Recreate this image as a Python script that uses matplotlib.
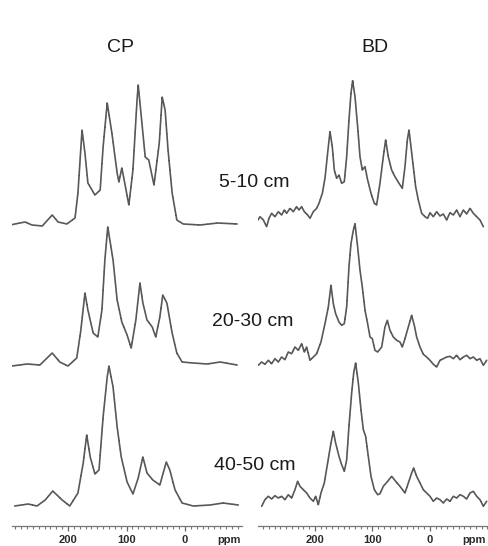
import matplotlib
matplotlib.use("Agg")
import matplotlib.pyplot as plt
from matplotlib.ticker import MultipleLocator, FixedLocator
import matplotlib.transforms as mtransforms

# ---------------- data (ppm, intensity above baseline) ----------------
CP1_ppm = [299, 273.5, 261.5, 244, 227, 217, 202, 188, 183, 176, 171, 166, 154, 145, 140, 133, 125, 116, 113, 108,
           103, 96, 89, 82, 80, 73, 68, 62, 53, 44, 39, 34, 29, 22, 14, 3, -26, -56, -89]
CP1_int = [0, 3, 0, -1, 10, 3, 1, 7, 32, 95, 72, 42, 30, 35, 78, 122, 92, 52, 43, 57,
           42, 20, 55, 125, 140, 98, 68, 65, 40, 82, 128, 115, 75, 32, 5, 1, 0, 2, 1]

CP2_ppm = [296, 270, 248, 227, 214, 200, 185, 178, 171, 166, 157, 149, 142, 137, 132, 123, 116, 108, 99, 92,
           84, 77, 72, 65, 56, 50, 43, 38, 31, 22, 14, 5, -14, -38, -60, -89]
CP2_int = [-1, 1, 0, 12, 3, -1, 7, 35, 72, 55, 32, 28, 55, 105, 138, 105, 65, 43, 30, 17,
           45, 82, 62, 45, 38, 28, 48, 70, 62, 32, 12, 3, 2, 1, 3, 0]

CP3_ppm = [291, 268, 253, 239, 226, 210, 197, 183, 174, 168, 162, 154, 147, 140, 133, 130, 123, 116, 109, 99,
           89, 80, 72, 65, 55, 43, 32, 26, 17, 5, -14, -43, -65, -91]
CP3_int = [-1, 1, -1, 5, 14, 5, -1, 12, 42, 70, 48, 31, 35, 88, 128, 139, 118, 78, 48, 23,
           11, 27, 48, 32, 25, 20, 43, 35, 15, 2, -1, 0, 2, 0]

BD1_ppm = [301.4, 295.6, 289.8, 284.1, 280.0, 275.4, 269.6, 263.8, 258.0, 253.3,
           249.3, 243.5, 237.7, 231.9, 227.8, 223.2, 218.5, 212.7, 208.7, 202.9,
           197.1, 193.0, 187.2, 182.6, 176.8, 173.9, 169.9, 166.4, 162.3, 158.3,
           153.6, 149.0, 144.9, 140.9, 137.4, 134.5, 130.4, 125.8, 121.7, 117.7,
           113.0, 108.4, 102.6, 96.8, 92.8, 87.0, 81.2, 77.1, 72.5, 66.7,
           60.9, 53.9, 48.1, 43.5, 39.4, 36.5, 33.1, 29.0, 24.9, 20.3,
           14.5, 8.7, 4.1, 0.0, -5.8, -11.6, -17.4, -23.2, -29.0, -34.8,
           -40.6, -46.4, -52.2, -58.0, -63.8, -69.6, -75.4, -81.2, -87.0, -92.8]
BD1_int = [-6.7, -1.7, -5, -11.7, -3.3, 1.7, -1.7, 3.3, 0, 5,
           1.7, 6.7, 3.3, 8.3, 5, 8.3, 3.3, 0, -3.3, 3.3,
           6.7, 11.7, 21.7, 36.7, 68.3, 83.3, 68.3, 45, 36.7, 40,
           31.7, 33.3, 58.3, 95, 121.7, 134.3, 118.3, 88.3, 58.3, 45,
           48.3, 35, 21.7, 11.7, 10, 31.7, 58.3, 75, 58.3, 45,
           38.3, 31.7, 26.7, 48.3, 75, 85, 68.3, 48.3, 28.3, 15,
           1.7, -1.7, -3.3, 2.3, -1.7, 3.3, -1, 1, -5, 2.3,
           0, 5, -1.7, 5, 1, 6.7, 1.7, -1.7, -5, -11.7]

BD2_ppm = [298.6, 292.8, 287.0, 281.2, 275.4, 269.6, 263.8, 258.0, 252.2, 246.4,
           240.6, 234.8, 229.0, 223.2, 218.5, 214.5, 208.7, 202.9, 197.1, 189.6,
           182.6, 176.8, 172.2, 168.1, 164.1, 158.3, 153.6, 149.0, 144.9, 140.9,
           137.4, 133.3, 130.4, 125.8, 121.7, 117.7, 113.0, 108.4, 104.3, 100.3,
           95.7, 91.0, 84.0, 78.3, 74.2, 69.6, 63.8, 58.0, 52.2, 48.1,
           43.5, 37.7, 31.9, 27.3, 23.2, 17.4, 11.6, 5.8, 0.0, -5.8,
           -11.6, -17.4, -23.2, -29.0, -34.8, -40.6, -46.4, -52.2, -58.0, -63.8,
           -69.6, -75.4, -81.2, -87.0, -92.8, -98.6]
BD2_int = [-4.3, -1, -3.3, 0.7, -2.7, 2.3, -1, 4, 1.3, 9,
           7.3, 14, 10.7, 17.3, 9, 14, 0.7, 4, 7.3, 19,
           37.3, 54, 75.7, 57.3, 47.3, 39, 35.7, 37.3, 54, 94,
           117.3, 130.7, 137.3, 114, 90.7, 74, 50.7, 37.3, 24, 22.3,
           10.7, 9, 14, 34, 40.7, 30.7, 24, 20.7, 19, 14,
           22.3, 34, 45.7, 35.7, 24, 14, 6.7, 4, 0.7, -3.3,
           -6, 0.7, 2.3, 4, 4.7, 2.3, 5.7, 1.3, 4, 5.7,
           2.3, 4, 0.7, 2.3, -4.3, 0.7]

BD3_ppm = [292.8, 287.0, 281.2, 275.4, 269.6, 263.8, 258.0, 252.2, 246.4, 240.6,
           234.8, 230.2, 226.1, 220.3, 214.5, 208.7, 202.9, 198.8, 194.2, 189.6,
           183.8, 178.0, 172.2, 168.1, 164.1, 158.3, 153.6, 149.0, 144.9, 140.9,
           136.2, 132.7, 129.3, 124.6, 120.0, 115.9, 111.9, 107.3, 102.6, 96.8,
           91.0, 87.0, 81.2, 73.6, 66.7, 59.7, 52.2, 43.5, 37.7, 31.9,
           28.4, 23.2, 17.4, 11.6, 5.8, 0.0, -5.8, -11.6, -17.4, -23.2,
           -29.0, -34.8, -40.6, -46.4, -52.2, -58.0, -63.8, -69.6, -75.4, -81.2,
           -87.0, -92.8, -98.6]
BD3_int = [-7.3, -0.7, 2.7, 0, 3.3, 1, 2.7, -0.7, 4.3, 1,
           9.3, 17.7, 12.7, 9.3, 6, 1, -2.3, 2.7, -5.7, 6,
           16, 36, 56, 67.7, 56, 42.7, 34.3, 27.7, 39, 72.7,
           106, 126, 136, 116, 89.3, 69.3, 62.7, 42.7, 22.7, 9.3,
           4.3, 5.3, 12.7, 17.7, 22.7, 17.7, 12.7, 6, 16, 26,
           31, 22.7, 16, 9.3, 6, 2.7, -2.3, 1, -0.7, -4,
           0, -2.3, 2.7, 1, 4.3, 2.7, 0, 6, 7.7, 2.7,
           -0.7, -7.3, -2.3]

panel_titles = ["CP", "BD"]
depth_labels = ["5-10 cm", "20-30 cm", "40-50 cm"]
tick_values = [200, 100, 0]
tick_labels = ["200", "100", "0"]
unit_label = "ppm"

# ---------------- layout (pixels of a 489x546 canvas) ----------------
W, H = 489, 546
fig = plt.figure(figsize=(W / 100, H / 100), dpi=100)
plt.rcParams['font.family'] = ['Liberation Sans', 'DejaVu Sans']

axis_y = 526          # image y of the ppm axis line
top_y = 20
line_color = '#585858'

panels = [
    dict(x0=12, x1=242, xlim=(295.7, -97.4),
         series=[(CP1_ppm, CP1_int, 301), (CP2_ppm, CP2_int, 161), (CP3_ppm, CP3_int, 21)]),
    dict(x0=258, x1=488, xlim=(299.1, -100.9),
         series=[(BD1_ppm, BD1_int, 311), (BD2_ppm, BD2_int, 165), (BD3_ppm, BD3_int, 27)]),
]

for p in panels:
    ax = fig.add_axes([p['x0'] / W, (H - axis_y) / H, (p['x1'] - p['x0']) / W, (axis_y - top_y) / H])
    ax.set_xlim(*p['xlim'])
    ax.set_ylim(0, axis_y - top_y)
    for ppm, inten, off in p['series']:
        ax.plot(ppm, [v + off for v in inten], color=line_color, lw=1.2,
                dashes=(5, 0.5), dash_joinstyle='round', dash_capstyle='round')
    for s in ['top', 'left', 'right']:
        ax.spines[s].set_visible(False)
    ax.spines['bottom'].set_color('#777777')
    ax.spines['bottom'].set_linewidth(0.9)
    ax.set_yticks([])
    ax.xaxis.set_major_locator(FixedLocator(tick_values))
    ax.set_xticklabels(tick_labels)
    ax.xaxis.set_minor_locator(MultipleLocator(10))
    ax.tick_params(axis='x', which='major', length=3.5, width=0.9, color='#666666',
                   labelsize=8, pad=3, labelcolor='#2a2a2a')
    ax.tick_params(axis='x', which='minor', length=2.2, width=0.8, color='#777777')
    for lab in ax.get_xticklabels():
        lab.set_fontweight('bold')
    trans = mtransforms.blended_transform_factory(ax.transData, ax.transAxes) + \
        mtransforms.ScaledTranslation(0, -6.5 / 72, fig.dpi_scale_trans)
    ax.text(-76, 0, unit_label, transform=trans, ha='center', va='top', fontsize=8,
            color='#2a2a2a', fontweight='bold')
    ax.patch.set_alpha(0)

def px_text(x, y, s, size, **kw):
    fig.text(x / W, 1 - y / H, s, ha='center', va='center', fontsize=size, color='#1a1a1a', **kw)

px_text(121, 48, panel_titles[0], 14)
px_text(375, 48, panel_titles[1], 14)
px_text(254, 183, depth_labels[0], 14)
px_text(253, 321, depth_labels[1], 14)
px_text(255, 466, depth_labels[2], 14)

fig.savefig("out.png", dpi=100)
